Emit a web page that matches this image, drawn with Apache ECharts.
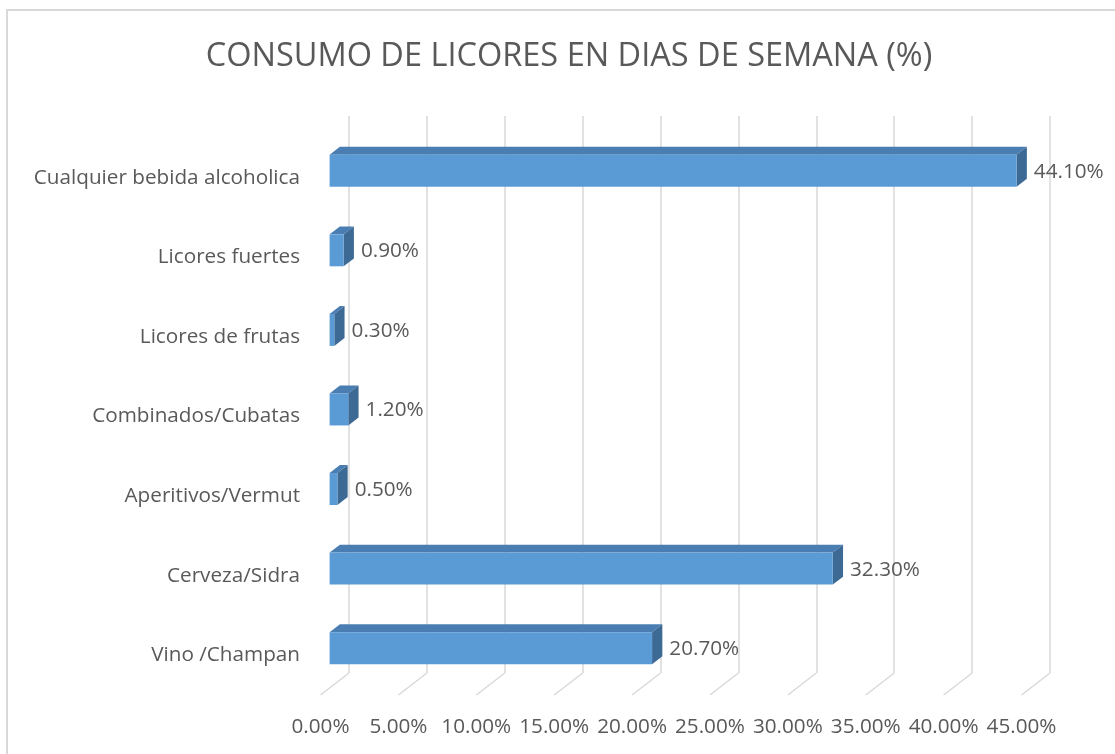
<!DOCTYPE html>
<html>
<head>
<meta charset="utf-8">
<title>Consumo de licores en dias de semana</title>
<script src="https://cdn.jsdelivr.net/npm/echarts@6/dist/echarts.min.js"></script>
<style>
  html, body { margin: 0; padding: 0; background: #fff; }
  #chart { width: 1115px; height: 754px; }
</style>
</head>
<body>
<div id="chart"></div>
<script>
// datos (de arriba a abajo)
const categories = [
  'Cualquier bebida alcoholica',
  'Licores fuertes',
  'Licores de frutas',
  'Combinados/Cubatas',
  'Aperitivos/Vermut',
  'Cerveza/Sidra',
  'Vino /Champan'
]
const values = [44.1, 0.9, 0.3, 1.2, 0.5, 32.3, 20.7]
const xTicks = [0, 5, 10, 15, 20, 25, 30, 35, 40, 45]

// perspectiva 3D: vector desde la pared del fondo hasta el frente
const DEPTH_X = -28.5
const DEPTH_Y = 22
const FRONT = 0.68
const BACK = 0.32
const BAR_H = 32

const TEXT = '#595959'
const GRID = '#D9D9D9'
const FONT = 'Open Sans'
const LABEL_SIZE = 20.7

const pct = v => v.toFixed(2) + '%'

function renderBar (params, api) {
  const v = api.value(0)
  const p0 = api.coord([0, api.value(1)])
  const p1 = api.coord([v, api.value(1)])
  const left = p0[0] + DEPTH_X * FRONT
  const right = p1[0] + DEPTH_X * FRONT
  const yc = p0[1] + DEPTH_Y * FRONT
  const top = yc - BAR_H / 2
  const bottom = yc + BAR_H / 2
  const bx = DEPTH_X * (BACK - FRONT)
  const by = DEPTH_Y * (BACK - FRONT)
  return {
    type: 'group',
    children: [
      {
        type: 'polygon',
        shape: { points: [[left, top], [right, top], [right + bx, top + by], [left + bx, top + by]] },
        style: { fill: '#4A7EB2' }
      },
      {
        type: 'polygon',
        shape: { points: [[right, top], [right + bx, top + by], [right + bx, bottom + by], [right, bottom]] },
        style: { fill: '#3D6995' }
      },
      {
        type: 'rect',
        shape: { x: left, y: top, width: right - left, height: BAR_H },
        style: { fill: '#5B9BD5' }
      },
      {
        type: 'text',
        style: {
          text: pct(v),
          x: right + bx + 7,
          y: yc + 1,
          align: 'left',
          verticalAlign: 'middle',
          fill: TEXT,
          font: LABEL_SIZE + 'px "' + FONT + '"'
        }
      }
    ]
  }
}

function renderFloorLine (params, api) {
  const p = api.coord([api.value(0), 0])
  const base = params.coordSys.y + params.coordSys.height
  return {
    type: 'line',
    shape: { x1: p[0], y1: base, x2: p[0] + DEPTH_X, y2: base + DEPTH_Y },
    style: { stroke: GRID, lineWidth: 1.5 }
  }
}

const chart = echarts.init(document.getElementById('chart'))

chart.setOption({
  animation: false,
  backgroundColor: '#fff',
  textStyle: { fontFamily: FONT },
  graphic: [
    {
      type: 'rect',
      shape: { x: 7, y: 10, width: 1200, height: 800 },
      style: { fill: 'none', stroke: GRID, lineWidth: 2 },
      silent: true
    }
  ],
  title: {
    text: 'CONSUMO DE LICORES EN DIAS DE SEMANA (%)',
    left: 564,
    textAlign: 'center',
    top: 35,
    textStyle: { color: TEXT, fontSize: 32.5, fontWeight: 'normal', fontFamily: FONT }
  },
  grid: { left: 349, right: 65, top: 116, bottom: 81 },
  xAxis: {
    type: 'value',
    min: 0,
    max: 45,
    interval: 5,
    axisLine: { show: false },
    axisTick: { show: false },
    splitLine: { show: true, lineStyle: { color: GRID, width: 1.5 } },
    axisLabel: {
      formatter: pct,
      color: TEXT,
      fontSize: LABEL_SIZE,
      margin: 44,
      padding: [0, 57, 0, 0],
      hideOverlap: false
    }
  },
  yAxis: {
    type: 'category',
    data: categories,
    inverse: true,
    axisLine: { show: false },
    axisTick: { show: false },
    splitLine: { show: false },
    axisLabel: {
      color: TEXT,
      fontSize: LABEL_SIZE,
      margin: 49,
      interval: 0,
      hideOverlap: false,
      showMinLabel: true,
      showMaxLabel: true,
      // la etiqueta queda en el borde frontal del suelo, 22px mas abajo
      formatter: v => '\n' + v,
      lineHeight: 44
    }
  },
  series: [
    {
      type: 'custom',
      name: 'suelo',
      renderItem: renderFloorLine,
      clip: false,
      silent: true,
      z: 1,
      data: xTicks.map(t => [t, 0])
    },
    {
      type: 'custom',
      name: 'consumo',
      renderItem: renderBar,
      clip: false,
      z: 3,
      encode: { x: 0, y: 1 },
      data: values.map((v, i) => [v, i])
    }
  ]
})
</script>
</body>
</html>
